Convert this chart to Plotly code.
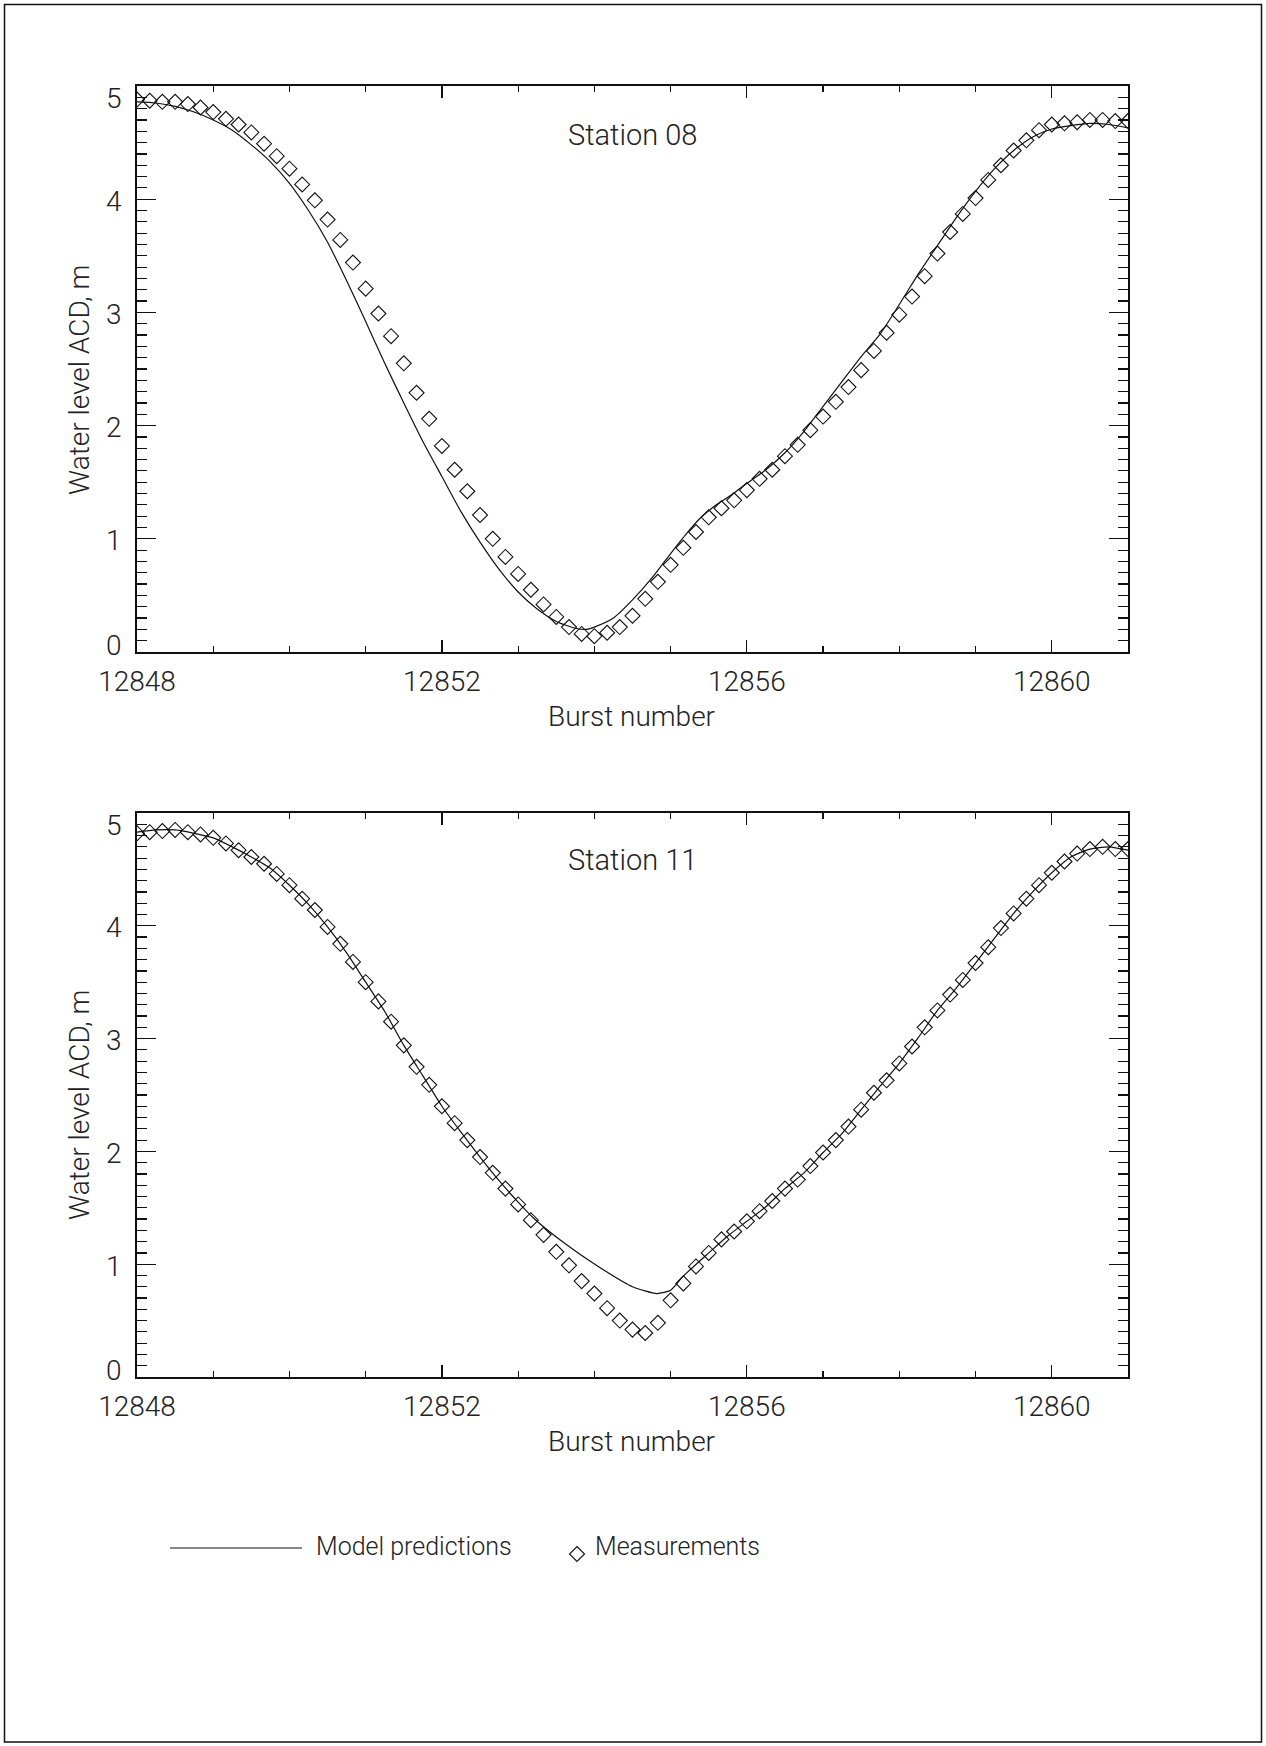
import plotly.graph_objects as go

# Burst times of the measurements (every 10 min, 1/6 burst)
meas_burst = [
    12848.000, 12848.167, 12848.333, 12848.500, 12848.667, 12848.833,
    12849.000, 12849.167, 12849.333, 12849.500, 12849.667, 12849.833,
    12850.000, 12850.167, 12850.333, 12850.500, 12850.667, 12850.833,
    12851.000, 12851.167, 12851.333, 12851.500, 12851.667, 12851.833,
    12852.000, 12852.167, 12852.333, 12852.500, 12852.667, 12852.833,
    12853.000, 12853.167, 12853.333, 12853.500, 12853.667, 12853.833,
    12854.000, 12854.167, 12854.333, 12854.500, 12854.667, 12854.833,
    12855.000, 12855.167, 12855.333, 12855.500, 12855.667, 12855.833,
    12856.000, 12856.167, 12856.333, 12856.500, 12856.667, 12856.833,
    12857.000, 12857.167, 12857.333, 12857.500, 12857.667, 12857.833,
    12858.000, 12858.167, 12858.333, 12858.500, 12858.667, 12858.833,
    12859.000, 12859.167, 12859.333, 12859.500, 12859.667, 12859.833,
    12860.000, 12860.167, 12860.333, 12860.500, 12860.667, 12860.833,
    12861.000,
]

# Station 08 measured water level (m ACD)
meas_08 = [
    4.88, 4.87, 4.86, 4.86, 4.84, 4.81, 4.77, 4.71, 4.66, 4.59, 4.49, 4.38,
    4.27, 4.13, 3.99, 3.82, 3.64, 3.44, 3.21, 2.99, 2.79, 2.55, 2.29, 2.06,
    1.82, 1.61, 1.42, 1.21, 1.00, 0.84, 0.69, 0.55, 0.42, 0.31, 0.22, 0.16,
    0.14, 0.17, 0.22, 0.32, 0.47, 0.62, 0.77, 0.92, 1.06, 1.19, 1.27, 1.34,
    1.43, 1.53, 1.61, 1.73, 1.83, 1.96, 2.08, 2.21, 2.34, 2.49, 2.66, 2.82,
    2.98, 3.14, 3.32, 3.52, 3.71, 3.87, 4.01, 4.17, 4.30, 4.43, 4.52, 4.61,
    4.66, 4.67, 4.68, 4.70, 4.70, 4.69, 4.69,
]

# Station 11 measured water level (m ACD)
meas_11 = [
    4.82, 4.83, 4.84, 4.85, 4.83, 4.81, 4.78, 4.73, 4.67, 4.61, 4.55, 4.46,
    4.36, 4.24, 4.14, 3.99, 3.84, 3.68, 3.50, 3.33, 3.15, 2.94, 2.75, 2.59,
    2.40, 2.25, 2.10, 1.95, 1.81, 1.67, 1.53, 1.39, 1.26, 1.11, 0.99, 0.85,
    0.74, 0.61, 0.50, 0.42, 0.39, 0.48, 0.68, 0.83, 0.98, 1.10, 1.22, 1.29,
    1.38, 1.47, 1.56, 1.67, 1.75, 1.87, 1.99, 2.10, 2.22, 2.37, 2.52, 2.63,
    2.78, 2.93, 3.10, 3.25, 3.39, 3.52, 3.67, 3.81, 3.98, 4.11, 4.24, 4.36,
    4.47, 4.57, 4.64, 4.68, 4.70, 4.68, 4.68,
]

# Model predictions, station 08
model_08_burst = [
    12848.00, 12848.25, 12848.50, 12848.75, 12849.00, 12849.25, 12849.50,
    12849.75, 12850.00, 12850.25, 12850.50, 12850.75, 12851.00, 12851.25,
    12851.50, 12851.75, 12852.00, 12852.25, 12852.50, 12852.75, 12853.00,
    12853.25, 12853.50, 12853.75, 12853.90, 12854.00, 12854.25, 12854.50,
    12854.75, 12855.00, 12855.20, 12855.40, 12855.60, 12855.80, 12856.00,
    12856.25, 12856.50, 12856.75, 12857.00, 12857.25, 12857.50, 12857.75,
    12858.00, 12858.25, 12858.50, 12858.75, 12859.00, 12859.25, 12859.50,
    12859.75, 12860.00, 12860.25, 12860.50, 12860.75, 12861.00,
]
model_08 = [
    4.86, 4.85, 4.82, 4.77, 4.70, 4.61, 4.48,
    4.33, 4.14, 3.90, 3.62, 3.28, 2.92, 2.55,
    2.20, 1.86, 1.55, 1.24, 0.97, 0.73, 0.53,
    0.38, 0.27, 0.21, 0.20, 0.22, 0.30, 0.46,
    0.65, 0.87, 1.04, 1.19, 1.30, 1.39, 1.49,
    1.61, 1.76, 1.95, 2.17, 2.39, 2.61, 2.81,
    3.07, 3.34, 3.59, 3.84, 4.07, 4.27, 4.43,
    4.55, 4.62, 4.65, 4.67, 4.66, 4.63,
]

# Model predictions, station 11
model_11_burst = [
    12848.00, 12848.25, 12848.50, 12848.75, 12849.00, 12849.25, 12849.50,
    12849.75, 12850.00, 12850.25, 12850.50, 12850.75, 12851.00, 12851.25,
    12851.50, 12851.75, 12852.00, 12852.25, 12852.50, 12852.75, 12853.00,
    12853.20, 12853.60, 12854.05, 12854.50, 12854.82, 12855.00, 12855.16,
    12855.50, 12855.75, 12856.00, 12856.25, 12856.50, 12856.75, 12857.00,
    12857.25, 12857.50, 12857.75, 12858.00, 12858.25, 12858.50, 12858.75,
    12859.00, 12859.25, 12859.50, 12859.75, 12860.00, 12860.25, 12860.50,
    12860.75, 12861.00,
]
model_11 = [
    4.83, 4.85, 4.85, 4.82, 4.78, 4.70, 4.61,
    4.51, 4.36, 4.19, 3.99, 3.76, 3.50, 3.24,
    2.94, 2.67, 2.40, 2.17, 1.95, 1.74, 1.55,
    1.41, 1.19, 0.98, 0.80, 0.74, 0.77, 0.89,
    1.10, 1.25, 1.38, 1.51, 1.67, 1.81, 1.99,
    2.16, 2.37, 2.58, 2.78, 3.01, 3.25, 3.45,
    3.67, 3.89, 4.11, 4.30, 4.47, 4.61, 4.68,
    4.70, 4.67,
]

stations = ["Station 08", "Station 11"]
x_tick_vals = [12848, 12852, 12856, 12860]
x_tick_text = ["12848", "12852", "12856", "12860"]
y_tick_vals = [0, 1, 2, 3, 4, 5]

W, H = 1266, 1746
FONT = "Roboto, 'DejaVu Sans', sans-serif"
INK = "#111111"


def px(x):
    return x / W


def py(y):
    return 1 - y / H


fig = go.Figure()

panels = [
    ("x", "y", model_08_burst, model_08, meas_08),
    ("x2", "y2", model_11_burst, model_11, meas_11),
]
for xa, ya, mx, my, mm in panels:
    fig.add_trace(go.Scatter(
        x=mx, y=my, xaxis=xa, yaxis=ya, mode="lines",
        line=dict(color=INK, width=1.2, shape="spline", smoothing=0.6),
        showlegend=False, hoverinfo="skip"))
    fig.add_trace(go.Scatter(
        x=meas_burst, y=mm, xaxis=xa, yaxis=ya, mode="markers",
        marker=dict(symbol="diamond-open", size=11.5, color=INK,
                    line=dict(width=1.1, color=INK)),
        showlegend=False, hoverinfo="skip"))

xaxis_style = dict(
    range=[12848, 12861], tickvals=x_tick_vals, ticktext=x_tick_text,
    ticks="inside", ticklen=12,
    tickwidth=1.3, tickcolor=INK, showline=True, linewidth=1.6, linecolor=INK,
    mirror="ticks", showgrid=False, zeroline=False,
    minor=dict(dtick=1, tick0=12848, ticks="inside", ticklen=6,
               tickwidth=1.2, tickcolor=INK),
    tickfont=dict(family=FONT, size=28, color="#222", weight=300),
    ticklabelstandoff=4, automargin=False,
    domain=[px(137), px(1128)],
)
# y labels are placed as annotations (the end labels sit inside the frame)
yaxis_style = dict(
    range=[0, 5], tickvals=y_tick_vals, ticks="inside", ticklen=19,
    tickwidth=1.3, tickcolor=INK, showline=True, linewidth=1.6, linecolor=INK,
    mirror="ticks", showgrid=False, zeroline=False, showticklabels=False,
    minor=dict(dtick=0.1, tick0=0, ticks="inside", ticklen=10,
               tickwidth=1.2, tickcolor=INK),
    automargin=False,
)

fig.update_layout(
    width=W, height=H,
    margin=dict(l=0, r=0, t=0, b=0),
    paper_bgcolor="white", plot_bgcolor="white",
    font=dict(family=FONT, color="#222"),
    xaxis=dict(xaxis_style, anchor="y"),
    yaxis=dict(yaxis_style, anchor="x", domain=[py(652), py(86)]),
    xaxis2=dict(xaxis_style, anchor="y2"),
    yaxis2=dict(yaxis_style, anchor="x2", domain=[py(1377), py(813)]),
)

txt = dict(family=FONT, color="#222", weight=300)

# y tick labels
label_shift = {0: 7, 5: -12}
for ya in ["y", "y2"]:
    for v in y_tick_vals:
        fig.add_annotation(text=str(v), x=px(124), y=v, xref="paper", yref=ya,
                           xanchor="right", yanchor="middle",
                           yshift=label_shift.get(v, -2), showarrow=False,
                           font=dict(txt, size=28))

annotations = [
    dict(text=stations[0], x=px(632), y=py(135), size=29),
    dict(text=stations[1], x=px(632), y=py(860), size=29),
    dict(text="Burst number", x=px(632), y=py(716), size=28),
    dict(text="Burst number", x=px(632), y=py(1441), size=28),
]
for a in annotations:
    fig.add_annotation(text=a["text"], x=a["x"], y=a["y"], xref="paper",
                       yref="paper", xanchor="center", yanchor="middle",
                       showarrow=False, font=dict(txt, size=a["size"]))
for yc in [380, 1105]:
    fig.add_annotation(text="Water level ACD, m", x=px(79), y=py(yc),
                       xref="paper", yref="paper", xanchor="center",
                       yanchor="middle", textangle=-90, showarrow=False,
                       font=dict(txt, size=28))

# Legend drawn by hand under the plots
fig.add_shape(type="line", xref="paper", yref="paper",
              x0=px(170), x1=px(302), y0=py(1548), y1=py(1548),
              line=dict(color=INK, width=1.2))
fig.add_annotation(text="Model predictions", x=px(314), y=py(1546),
                   xref="paper", yref="paper", xanchor="left",
                   yanchor="middle", showarrow=False, font=dict(txt, size=25))
cx, cy, r = 577, 1554, 7.5
fig.add_shape(type="path", xref="paper", yref="paper",
              path=(f"M {px(cx)},{py(cy - r)} L {px(cx + r)},{py(cy)} "
                    f"L {px(cx)},{py(cy + r)} L {px(cx - r)},{py(cy)} Z"),
              line=dict(color=INK, width=1.1))
fig.add_annotation(text="Measurements", x=px(593), y=py(1546),
                   xref="paper", yref="paper", xanchor="left",
                   yanchor="middle", showarrow=False, font=dict(txt, size=25))

# Page frame
fig.add_shape(type="rect", xref="paper", yref="paper",
              x0=px(4.5), x1=px(1261.5), y0=py(1742), y1=py(4.5),
              line=dict(color=INK, width=1.5))

# drop the default body margin so the figure fills the page
fig.write_html("out.html",
               config={"displayModeBar": False, "staticPlot": True},
               post_script="document.body.style.margin='0';"
                           "document.body.style.overflow='hidden';")
